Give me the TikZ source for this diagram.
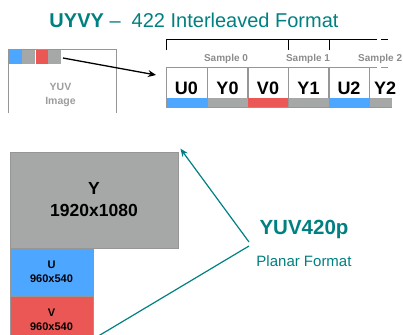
\documentclass[tikz,border=0pt]{standalone}
\usepackage{fontspec}
\setmainfont{Liberation Sans}
\usetikzlibrary{arrows.meta,positioning}
\definecolor{teal1}{RGB}{0,128,128}
\definecolor{cblue}{RGB}{77,166,255}
\definecolor{cred}{RGB}{235,87,84}
\definecolor{cgray}{RGB}{166,168,167}
\definecolor{bgray}{RGB}{150,150,150}
\definecolor{tgray}{RGB}{140,140,140}
\tikzset{
  cell/.style={draw=bgray, line width=0.8pt, minimum width=41pt, minimum height=40pt, inner sep=0pt, font=\fontsize{18}{18}\selectfont\bfseries, text=black},
  strip/.style={inner sep=0pt, minimum height=9pt, minimum width=41pt},
  smp/.style={font=\fontsize{10}{10}\selectfont\bfseries, text=tgray, inner sep=0pt},
  brk/.style={line width=1pt, black},
  plane/.style={draw=bgray, line width=0.8pt, inner sep=0pt, align=center},
  tealline/.style={teal1, line width=1.2pt},
}
\begin{document}
\begin{tikzpicture}[x=1pt,y=-1pt]
\useasboundingbox (0,0) rectangle (403,334);
\clip (0,0) rectangle (403,334);
% title
\node[text=teal1, font=\fontsize{20}{20}\selectfont, inner sep=0pt] (title) at (194,20) {\textbf{UYVY} –\ \ 422 Interleaved Format};
% YUV image box
\draw[bgray, line width=0.9pt] (8.5,113) -- (8.5,49) -- (116,49) -- (116,113);
\node[inner sep=0pt, minimum width=13pt, minimum height=14pt, fill=cblue] (s1) at (15.5,57) {};
\node[inner sep=0pt, minimum width=13pt, minimum height=14pt, fill=cgray, right=0pt of s1] (s2) {};
\node[inner sep=0pt, minimum width=12pt, minimum height=14pt, fill=cred, right=0pt of s2] (s3) {};
\node[inner sep=0pt, minimum width=13pt, minimum height=14pt, fill=cgray, right=0pt of s3] (s4) {};
\node[font=\fontsize{10.5}{14}\selectfont\bfseries, text=tgray!85, align=center, inner sep=0pt] (img) at (60.5,95) {YUV\\Image};
% arrow
\coordinate (a1) at (63,58);
\coordinate (a2) at (156,75);
\draw[line width=1.3pt, -{Stealth[length=8pt,width=7pt]}] (a1) -- (a2);
% cells
\node[cell] (c0) at (186.5,87) {};
\node[cell] (c1) at (227.5,87) {};
\node[cell] (c2) at (268,87) {};
\node[cell] (c3) at (308.5,87) {};
\node[cell] (c4) at (349,87) {};
\foreach \n/\x/\c in {c0/186.5/cblue, c1/227.5/cgray, c2/268/cred, c3/308.5/cgray, c4/349/cblue}{
  \node[strip, fill=\c, minimum width=40pt] at (\x,102.5) {};
}
\node[strip, fill=cgray, minimum width=22pt] (s5) at (381,102.5) {};
\draw[bgray, line width=0.8pt] (369.5,67) -- (377,67);
\draw[bgray, line width=0.8pt] (381,67) -- (388,67);
\draw[bgray, line width=0.8pt] (369.5,107) -- (392,107);
\foreach \n/\t in {c0/U0, c1/Y0, c2/V0, c3/Y1, c4/U2}{
  \node[font=\fontsize{18}{18}\selectfont\bfseries, inner sep=0pt] at ([yshift=-1.5pt]\n.center) {\t};
}
\node[font=\fontsize{18}{18}\selectfont\bfseries, inner sep=0pt] (c5) at (385,88.5) {Y2};
% bracket
\draw[brk] (166,50) -- (166,40) -- (377,40);
\draw[brk] (381,40) -- (388,40);
\draw[brk] (288,40) -- (288,50);
\draw[brk] (329,40) -- (329,50);
\node[smp] (sm0) at (226,59) {Sample 0};
\node[smp] (sm1) at (308,59) {Sample 1};
\node[smp, anchor=west] (sm2) at (358,59) {Sample 2};
% planar
\node[plane, fill=cgray, minimum width=168pt, minimum height=96pt, font=\fontsize{17.5}{22}\selectfont\bfseries] (Y) at (94,200) {Y\\1920x1080};
\node[plane, fill=cblue, minimum width=83pt, minimum height=48pt, font=\fontsize{11}{14}\selectfont\bfseries] (U) at (51.5,272) {U\\960x540};
\node[plane, fill=cred, minimum width=83pt, minimum height=48pt, font=\fontsize{11}{14}\selectfont\bfseries] (V) at (51.5,320) {V\\960x540};
% labels
\node[text=teal1, font=\fontsize{20.5}{20}\selectfont\bfseries, inner sep=0pt] (fmt) at (304,229) {YUV420p};
\node[text=teal1, font=\fontsize{15}{15}\selectfont, inner sep=0pt] (pf) at (304,261) {Planar Format};
\coordinate (j1) at (249,242);
\coordinate (j2) at (249,246);
\coordinate (e2) at (90,341);
\draw[tealline, -{Stealth[length=8pt,width=6.5pt]}] (j1) -- ([xshift=2pt,yshift=3pt]Y.north east);
\draw[tealline] (j2) -- (e2);
\end{tikzpicture}
\end{document}
